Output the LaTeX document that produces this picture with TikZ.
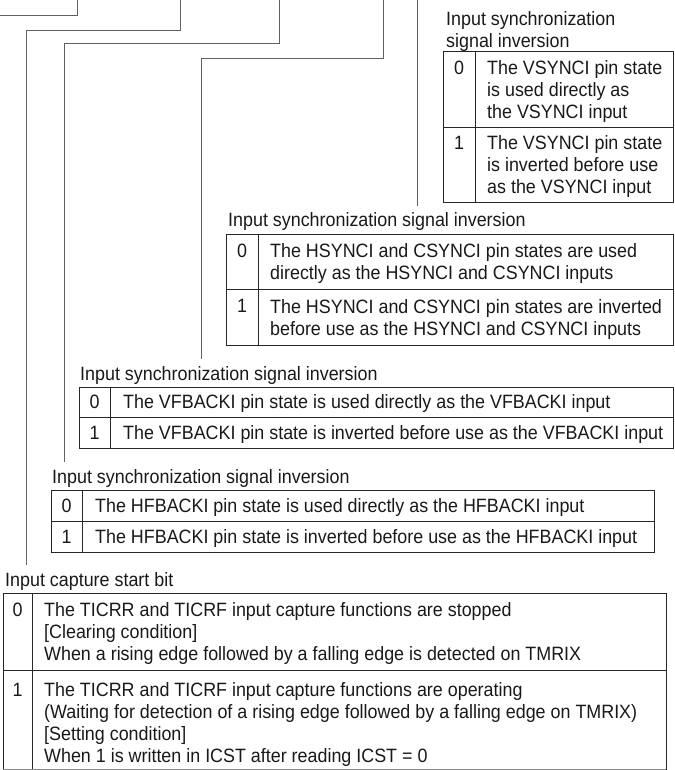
\documentclass[tikz,border=0pt]{standalone}
\usepackage{fontspec}
\setmainfont{Liberation Sans}[FakeStretch=0.927]
\newcommand\fsz{\fontsize{19.3bp}{22bp}\selectfont}
\begin{document}
\begin{tikzpicture}[x=1bp,y=-1bp,
  conn/.style={draw=black!62,line width=1bp},
  tbl/.style={draw=black!85,line width=1bp},
  ttl/.style={font=\fsz,inner sep=0pt,anchor=base west,align=left,text=black!90},
  ttlm/.style={font=\fsz,inner sep=0pt,anchor=north west,align=left,text=black!90},
  cel/.style={font=\fsz,inner sep=0pt,anchor=north west,align=left,text=black!90},
  cels/.style={font=\fsz,inner sep=0pt,anchor=base west,text=black!90},
  num/.style={font=\fsz,inner sep=0pt,anchor=base,text=black!90}]
\useasboundingbox (0,0) rectangle (675,770);

% ---- connector lines from above ----
\coordinate (a0) at (0,16);   \coordinate (a1) at (77,16);  \coordinate (a2) at (77,0);
\coordinate (b0) at (180,0);  \coordinate (b1) at (180,31); \coordinate (b2) at (26,31);  \coordinate (b3) at (26,565);
\coordinate (c0) at (279,0);  \coordinate (c1) at (279,44); \coordinate (c2) at (64,44);  \coordinate (c3) at (64,462);
\coordinate (d0) at (383,0);  \coordinate (d1) at (383,59); \coordinate (d2) at (201,59); \coordinate (d3) at (201,359);
\coordinate (e0) at (417,0);  \coordinate (e1) at (417,206);
\draw[conn] (a0) -- (a1) -- (a2);
\draw[conn] (b0) -- (b1) -- (b2) -- (b3);
\draw[conn] (c0) -- (c1) -- (c2) -- (c3);
\draw[conn] (d0) -- (d1) -- (d2) -- (d3);
\draw[conn] (e0) -- (e1);

% ---- VSYNCI table ----
\node[ttlm] (vsT) at (446,11.15) {Input synchronization\\signal inversion};
\draw[tbl] (443,52) rectangle (673,202);
\draw[tbl] (475,52) -- (475,202);
\draw[tbl] (443,127) -- (673,127);
\node[num] (vs0n) at (459,74.15) {0};
\node[cel] (vs0) at (487,60.15) {The VSYNCI pin state\\is used directly as\\the VSYNCI input};
\node[num] (vs1n) at (459,149.15) {1};
\node[cel] (vs1) at (487,135.15) {The VSYNCI pin state\\is inverted before use\\as the VSYNCI input};

% ---- HSYNCI table ----
\node[ttl] (hsT) at (228,226.65) {Input synchronization signal inversion};
\draw[tbl] (226,234) rectangle (673,345);
\draw[tbl] (258,234) -- (258,345);
\draw[tbl] (226,289.5) -- (673,289.5);
\node[num] (hs0n) at (242,257.4) {0};
\node[cel] (hs0) at (270,243.4) {The HSYNCI and CSYNCI pin states are used\\directly as the HSYNCI and CSYNCI inputs};
\node[num] (hs1n) at (242,312.9) {1};
\node[cel] (hs1) at (270,298.9) {The HSYNCI and CSYNCI pin states are inverted\\before use as the HSYNCI and CSYNCI inputs};

% ---- VFBACKI table ----
\node[ttl] (vfT) at (80,380.65) {Input synchronization signal inversion};
\draw[tbl] (79,387) rectangle (673,448);
\draw[tbl] (110,387) -- (110,448);
\draw[tbl] (79,417.5) -- (673,417.5);
\node[num] (vf0n) at (94.5,408.9) {0};
\node[cels] (vf0) at (123,408.9) {The VFBACKI pin state is used directly as the VFBACKI input};
\node[num] (vf1n) at (94.5,439.4) {1};
\node[cels] (vf1) at (123,439.4) {The VFBACKI pin state is inverted before use as the VFBACKI input};

% ---- HFBACKI table ----
\node[ttl] (hfT) at (52,483.65) {Input synchronization signal inversion};
\draw[tbl] (51,490) rectangle (654,552);
\draw[tbl] (82,490) -- (82,552);
\draw[tbl] (51,521) -- (654,521);
\node[num] (hf0n) at (66.5,512.15) {0};
\node[cels] (hf0) at (95,512.15) {The HFBACKI pin state is used directly as the HFBACKI input};
\node[num] (hf1n) at (66.5,543.15) {1};
\node[cels] (hf1) at (95,543.15) {The HFBACKI pin state is inverted before use as the HFBACKI input};

% ---- Input capture table ----
\node[ttl] (icT) at (5,586.65) {Input capture start bit};
\draw[tbl] (3,770) -- (3,593) -- (666,593) -- (666,770);
\draw[tbl] (32,593) -- (32,770);
\draw[tbl] (3,670) -- (666,670);
\draw[draw=black!45,line width=1bp] (3,769.5) -- (666,769.5);
\node[num] (ic0n) at (17.5,616.15) {0};
\node[cel] (ic0) at (44,602.15) {The TICRR and TICRF input capture functions are stopped\\{}[Clearing condition]\\When a rising edge followed by a falling edge is detected on TMRIX};
\node[num] (ic1n) at (17.5,696.65) {1};
\node[cel] (ic1) at (44,682.65) {The TICRR and TICRF input capture functions are operating\\(Waiting for detection of a rising edge followed by a falling edge on TMRIX)\\{}[Setting condition]\\When 1 is written in ICST after reading ICST = 0};
\end{tikzpicture}
\end{document}
